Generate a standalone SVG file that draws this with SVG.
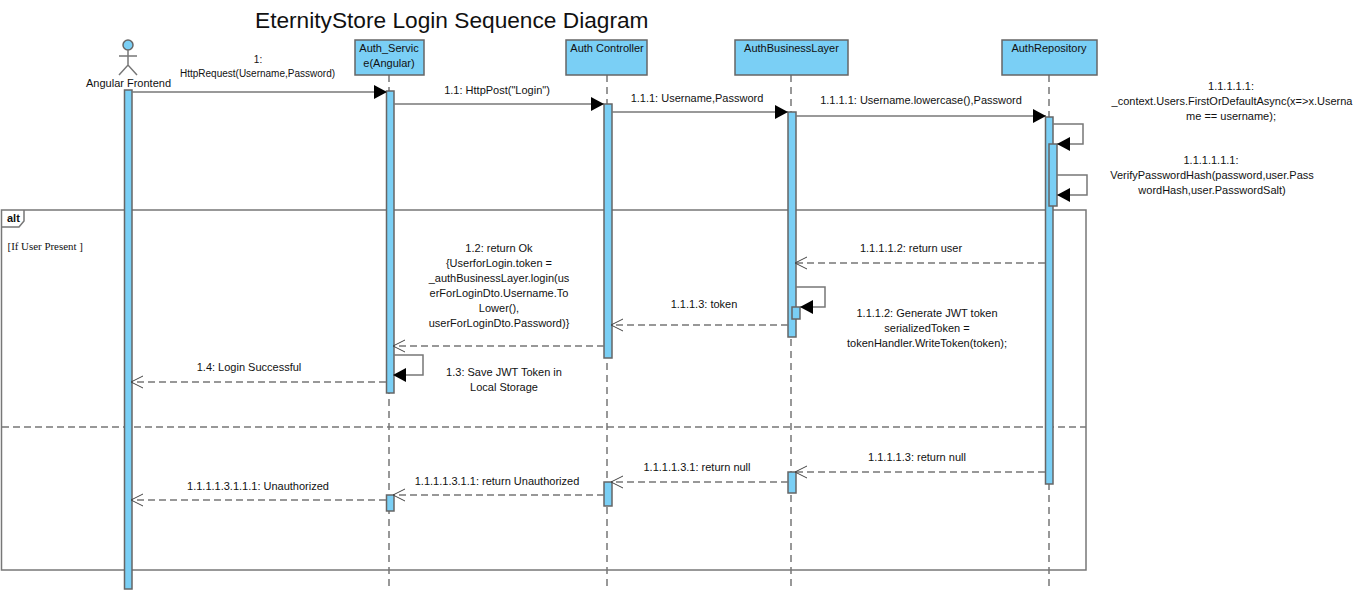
<svg xmlns="http://www.w3.org/2000/svg" width="1362" height="594" viewBox="0 0 1362 594">
<style>
text{font-family:"Liberation Sans",Arial,sans-serif;font-size:11px;fill:#111;text-anchor:middle}
.t{font-size:22.700px;text-anchor:start}
.h{font-size:10px}
.g{font-family:"Liberation Serif","Times New Roman",serif;font-size:10.900px;text-anchor:start}
.b{fill:#7acff5;stroke:#666;stroke-width:1.5}
.l{fill:none;stroke:#777;stroke-width:1.5}
.d{fill:none;stroke:#777;stroke-width:1.5;stroke-dasharray:7 4}
.ll{fill:none;stroke:#777;stroke-width:1.5;stroke-dasharray:7 5}
.s{fill:none;stroke:#777;stroke-width:1.5;marker-end:url(#f)}
.r{fill:none;stroke:#777;stroke-width:1.5;stroke-dasharray:7 4;marker-end:url(#o)}
</style>
<defs>
<marker id="f" markerUnits="userSpaceOnUse" markerWidth="14" markerHeight="14" refX="13" refY="7" orient="auto"><path d="M0 0L13 7L0 14Z" fill="#000"/></marker>
<marker id="o" markerUnits="userSpaceOnUse" markerWidth="14" markerHeight="14" refX="13" refY="7" orient="auto"><path d="M1 1L13 7L1 13" fill="none" stroke="#444" stroke-width="1"/></marker>
</defs>
<text class="t" x="255" y="28">EternityStore Login Sequence Diagram</text>

<g id="lifelines">
<path class="ll" d="M389 75V590M607 75V590M791 75V590M1049 75V590"/>
</g>

<g id="frame-alt">
<rect x="1.500" y="210" width="1084.500" height="360" fill="none" stroke="#777" stroke-width="1.5"/>
<path class="l" d="M2 227H19L24 221V210"/>
<text x="7" y="222" style="font-size:11px;font-weight:bold;text-anchor:start">alt</text>
<text class="g" x="7.500" y="250">[If User Present ]</text>
<path class="d" d="M2 427H1086"/>
</g>

<g id="actor">
<circle cx="128" cy="45" r="5" class="b"/>
<path class="l" d="M128 50V65M119 56H137M119 75L128 65L137 75"/>
<text x="128.500" y="87">Angular Frontend</text>
<rect class="b" x="124.500" y="90" width="7.500" height="499"/>
</g>

<g id="auth-service">
<rect class="b" x="355" y="40" width="69" height="35"/>
<text x="389" y="52">Auth_Servic</text>
<text x="389" y="67">e(Angular)</text>
<rect class="b" x="386.500" y="91" width="7.500" height="302"/>
<rect class="b" x="386.500" y="495" width="7.500" height="16"/>
</g>

<g id="auth-controller">
<rect class="b" x="566" y="40" width="81" height="35"/>
<text x="607" y="52">Auth Controller</text>
<rect class="b" x="604" y="104" width="8" height="254"/>
<rect class="b" x="604" y="482" width="8" height="24"/>
</g>

<g id="auth-business-layer">
<rect class="b" x="735" y="40" width="113" height="35"/>
<text x="791.500" y="52">AuthBusinessLayer</text>
<rect class="b" x="788" y="112" width="8" height="225"/>
<rect class="b" x="792" y="307" width="8" height="12"/>
<rect class="b" x="788" y="472" width="8" height="21"/>
</g>

<g id="auth-repository">
<rect class="b" x="1002" y="40" width="95" height="35"/>
<text x="1049" y="52">AuthRepository</text>
<rect class="b" x="1045.500" y="117" width="7.500" height="367"/>
<rect class="b" x="1049" y="144" width="8" height="62"/>
</g>

<g id="connectors">
<path class="s" d="M132 92H387"/>
<path class="s" d="M394 104H604"/>
<path class="s" d="M612 112H788"/>
<path class="s" d="M796 116H1046"/>
<path class="s" d="M1053 124H1083V144H1057"/>
<path class="s" d="M1057 175H1087V195H1057"/>
<path class="r" d="M1045 263H795"/>
<path class="s" d="M796 287H825V307H800"/>
<path class="r" d="M788 325H611"/>
<path class="r" d="M604 346H393"/>
<path class="s" d="M394 355H423V375H393"/>
<path class="r" d="M386 382H131"/>
<path class="r" d="M1045 472H795"/>
<path class="r" d="M788 482H611"/>
<path class="r" d="M604 495H393"/>
<path class="r" d="M386 500H131"/>
</g>

<g id="labels">
<text class="h" x="258" y="63">1:</text>
<text class="h" x="257.500" y="77">HttpRequest(Username,Password)</text>
<text x="497" y="94">1.1: HttpPost("Login")</text>
<text x="697" y="102">1.1.1: Username,Password</text>
<text x="921" y="104">1.1.1.1: Username.lowercase(),Password</text>
<text x="1231" y="90">1.1.1.1.1:</text>
<text x="1232" y="105">_context.Users.FirstOrDefaultAsync(x=&gt;x.Userna</text>
<text x="1231" y="120">me == username);</text>
<text x="1211" y="164">1.1.1.1.1.1:</text>
<text x="1212" y="179">VerifyPasswordHash(password,user.Pass</text>
<text x="1212" y="194">wordHash,user.PasswordSalt)</text>
<text x="911" y="252">1.1.1.1.2: return user</text>
<text x="499" y="252">1.2: return Ok</text>
<text x="499" y="267">{UserforLogin.token =</text>
<text x="499" y="282">_authBusinessLayer.login(us</text>
<text x="499" y="297">erForLoginDto.Username.To</text>
<text x="499" y="312">Lower(),</text>
<text x="499" y="327">userForLoginDto.Password)}</text>
<text x="704" y="308">1.1.1.3: token</text>
<text x="927" y="317">1.1.1.2: Generate JWT token</text>
<text x="927" y="332">serializedToken =</text>
<text x="927" y="347">tokenHandler.WriteToken(token);</text>
<text x="249" y="371">1.4: Login Successful</text>
<text x="504" y="376">1.3: Save JWT Token in</text>
<text x="504" y="391">Local Storage</text>
<text x="917" y="461">1.1.1.1.3: return null</text>
<text x="697" y="471">1.1.1.1.3.1: return null</text>
<text x="497" y="485">1.1.1.1.3.1.1: return Unauthorized</text>
<text x="258" y="490">1.1.1.1.3.1.1.1: Unauthorized</text>
</g>
</svg>
